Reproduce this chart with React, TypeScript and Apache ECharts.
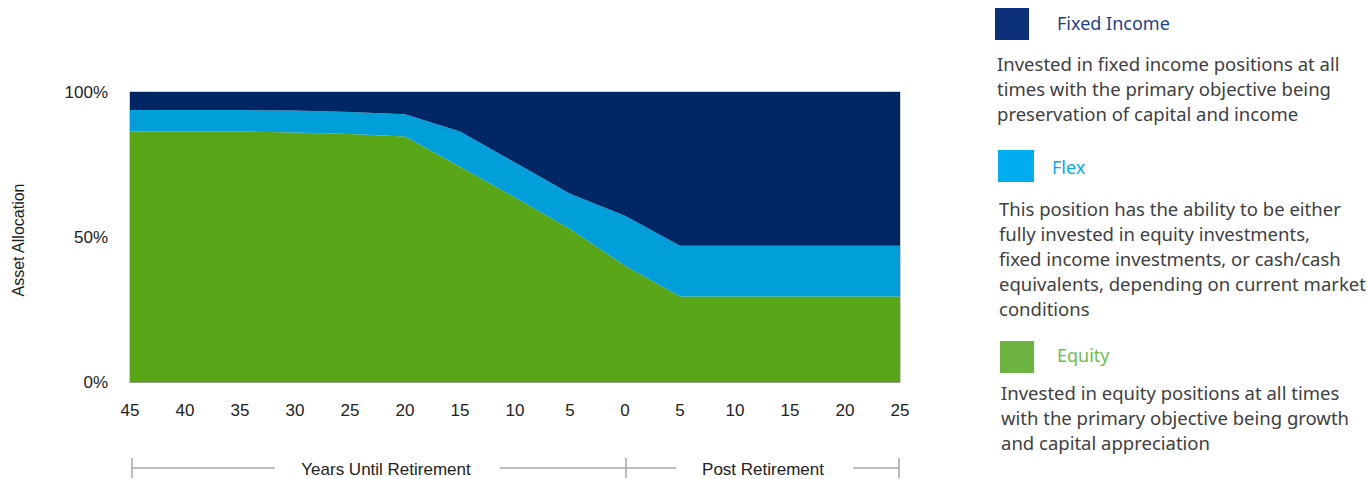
import React, { useEffect, useRef } from "react";
import * as echarts from "echarts";

const tickLabels = ["45", "40", "35", "30", "25", "20", "15", "10", "5", "0", "5", "10", "15", "20", "25"];
const equity = [86.4, 86.4, 86.4, 86.1, 85.5, 84.7, 74.3, 63.7, 52.8, 40.2, 29.6, 29.6, 29.6, 29.6, 29.6];
const flex = [7.4, 7.4, 7.4, 7.5, 7.6, 7.6, 12.1, 12.0, 12.2, 17.2, 17.5, 17.5, 17.5, 17.5, 17.5];
const fixedIncome = [6.2, 6.2, 6.2, 6.4, 6.9, 7.7, 13.6, 24.3, 35.0, 42.6, 52.9, 52.9, 52.9, 52.9, 52.9];

const seriesNames = ["Equity", "Flex", "Fixed Income"];
const areaColors = ["#58a618", "#009fda", "#002663"];

const legendItems = [
  {
    name: "Fixed Income",
    square: "#0b3079",
    text: "#1f3f87",
    desc: [
      "Invested in fixed income positions at all",
      "times with the primary objective being",
      "preservation of capital and income",
    ],
  },
  {
    name: "Flex",
    square: "#00aeef",
    text: "#00aeef",
    desc: [
      "This position has the ability to be either",
      "fully invested in equity investments,",
      "fixed income investments, or cash/cash",
      "equivalents, depending on current market",
      "conditions",
    ],
  },
  {
    name: "Equity",
    square: "#6db33f",
    text: "#6dbe4b",
    desc: [
      "Invested in equity positions at all times",
      "with the primary objective being growth",
      "and capital appreciation",
    ],
  },
];

const FONT = "Liberation Sans";
const DESC_FONT = "Noto Sans";

export default function App() {
  const ref = useRef<HTMLDivElement>(null);
  useEffect(() => {
    document.body.style.margin = "0";
    const chart = echarts.init(ref.current!, null, { renderer: "svg" });

    const legendLayout = [
      { sq: [995, 8, 34, 32], title: [1057, 23], desc: [997, 63] },
      { sq: [998, 150, 36, 32], title: [1052, 167], desc: [999, 208] },
      { sq: [1000, 341, 34, 32], title: [1057, 355], desc: [1001, 392] },
    ];
    const graphics: any[] = [];
    legendItems.forEach((it, i) => {
      const L = legendLayout[i];
      graphics.push({
        type: "rect",
        shape: { x: L.sq[0], y: L.sq[1], width: L.sq[2], height: L.sq[3] },
        style: { fill: it.square },
      });
      graphics.push({
        type: "text",
        x: L.title[0],
        y: L.title[1],
        style: {
          text: it.name,
          fill: it.text,
          font: `18px '${DESC_FONT}'`,
          textVerticalAlign: "middle",
        },
      });
      it.desc.forEach((line, j) => {
        graphics.push({
          type: "text",
          x: L.desc[0],
          y: L.desc[1] + j * 25,
          style: {
            text: line,
            fill: "#404040",
            font: `18.5px '${DESC_FONT}'`,
            textVerticalAlign: "middle",
          },
        });
      });
    });

    // bracket below axis
    const bracketY = 468;
    const gray = "#a6a6a6";
    const segs = [
      [132, 275],
      [500, 626],
      [626, 676],
      [853, 899],
    ];
    segs.forEach((s) =>
      graphics.push({
        type: "line",
        shape: { x1: s[0], y1: bracketY, x2: s[1], y2: bracketY },
        style: { stroke: gray, lineWidth: 1.5 },
      })
    );
    [132, 626, 899].forEach((x) =>
      graphics.push({
        type: "line",
        shape: { x1: x, y1: 458, x2: x, y2: 478 },
        style: { stroke: gray, lineWidth: 1.5 },
      })
    );
    graphics.push({
      type: "text",
      x: 386,
      y: bracketY + 1,
      style: {
        text: "Years Until Retirement",
        fill: "#222",
        font: `17px '${FONT}'`,
        textAlign: "center",
        textVerticalAlign: "middle",
      },
    });
    graphics.push({
      type: "text",
      x: 763,
      y: bracketY + 1,
      style: {
        text: "Post Retirement",
        fill: "#222",
        font: `17px '${FONT}'`,
        textAlign: "center",
        textVerticalAlign: "middle",
      },
    });
    graphics.push({
      type: "text",
      x: 18,
      y: 240,
      rotation: Math.PI / 2,
      style: {
        text: "Asset Allocation",
        fill: "#222",
        font: `16px '${FONT}'`,
        textAlign: "center",
        textVerticalAlign: "middle",
      },
    });

    const data = [equity, flex, fixedIncome];
    chart.setOption({
      animation: false,
      grid: {
        left: 130,
        right: 467,
        top: 92,
        bottom: 96.5,
        show: true,
        borderColor: "#a0a0a0",
        borderWidth: 1,
      },
      xAxis: {
        type: "category",
        data: tickLabels,
        boundaryGap: false,
        axisLine: { show: true, lineStyle: { color: "#a6a6a6" } },
        axisTick: { show: false },
        axisLabel: {
          color: "#222",
          fontSize: 17,
          fontFamily: FONT,
          margin: 19,
          interval: 0,
        },
        splitLine: { show: false },
      },
      yAxis: {
        type: "value",
        min: 0,
        max: 100,
        interval: 50,
        axisLine: { show: false },
        axisTick: { show: false },
        splitLine: { show: false },
        axisLabel: {
          formatter: "{value}%",
          color: "#222",
          fontSize: 17,
          fontFamily: FONT,
          margin: 22,
        },
      },
      series: seriesNames.map((name, i) => ({
        name,
        type: "line",
        stack: "total",
        data: data[i],
        symbol: "none",
        lineStyle: { width: 0 },
        areaStyle: { color: areaColors[i], opacity: 1 },
        itemStyle: { color: areaColors[i] },
        z: 2,
      })),
      graphic: graphics,
    });
    return () => chart.dispose();
  }, []);
  return <div ref={ref} style={{ width: 1367, height: 479 }} />;
}
